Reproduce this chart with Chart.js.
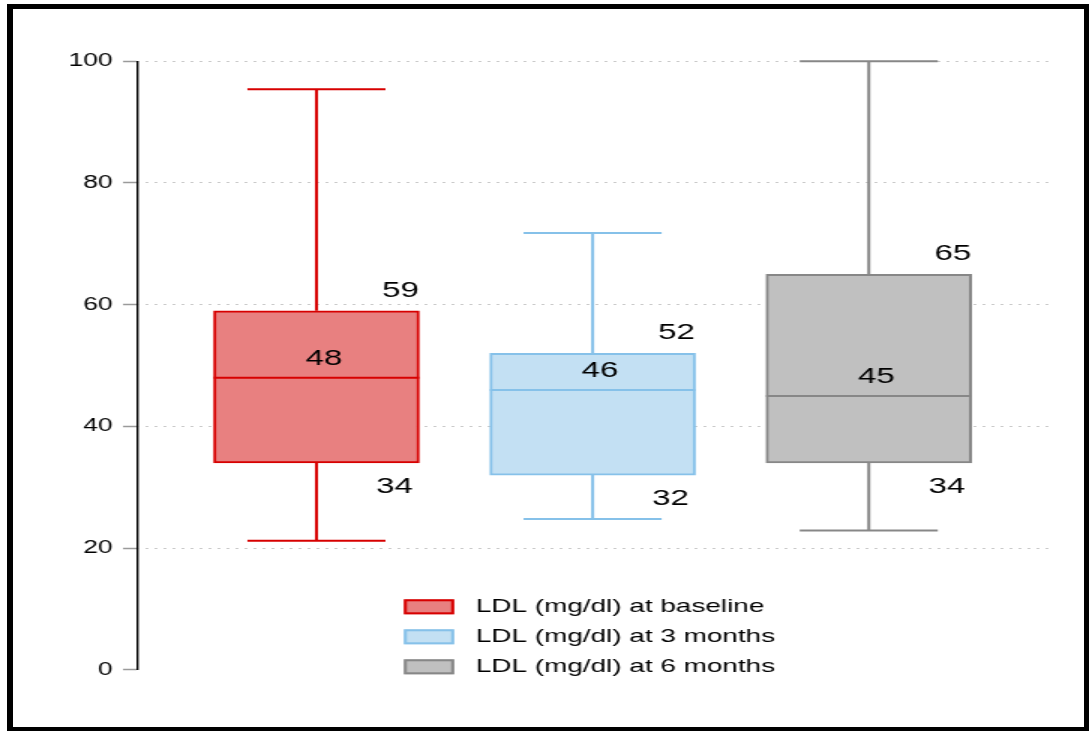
<!DOCTYPE html>
<html>
<head>
<meta charset="utf-8">
<script src="https://cdn.jsdelivr.net/npm/chart.js@4.4.1/dist/chart.umd.min.js"></script>
<style>
  html, body { margin: 0; padding: 0; background: #fff; }
  #wrap { position: relative; width: 1089px; height: 731px; overflow: hidden; }
  #c { position: absolute; left: 0; top: 0; }
  #frame {
    position: absolute; left: 7px; top: 4px; width: 1082px; height: 727px;
    box-sizing: border-box; border: 5px solid #000; border-left-width: 6px; border-bottom-width: 4px;
    pointer-events: none;
  }
</style>
</head>
<body>
<div id="wrap">
  <!-- drawn at 726 px wide and widened to 1089 px -->
  <canvas id="c" width="726" height="731" style="width:1089px;height:731px"></canvas>
  <div id="frame"></div>
</div>
<script>
// LDL cholesterol (mg/dl) box plots
const groups = ['LDL (mg/dl) at baseline', 'LDL (mg/dl) at 3 months', 'LDL (mg/dl) at 6 months'];
const positions = [1, 2, 3];
const lowerWhisker = [21.2, 24.8, 22.9];
const q1 = [34, 32, 34];
const median = [48, 46, 45];
const q3 = [59, 52, 65];
const upperWhisker = [95.4, 71.8, 100];
const yTickValues = [0, 20, 40, 60, 80, 100];

const fillColors = ['#e88080', '#c3e0f3', '#c0c0c0'];
const lineColors = ['#d70000', '#86c1e9', '#878787'];
const FONT = '"Liberation Sans", Arial, Helvetica, sans-serif';
const CAP_HALF = 0.25;      // whisker cap half-width, x units
const BOX_THICKNESS = 137;  // box width, px

const boxDatasets = groups.map((label, i) => ({
  type: 'bar',
  label,
  data: [{ x: positions[i], y: [q1[i], q3[i]] }],
  backgroundColor: fillColors[i],
  borderColor: lineColors[i],
  borderWidth: 2,
  borderSkipped: false,
  barThickness: BOX_THICKNESS,
  grouped: false,
  order: 0
}));

const whiskerDatasets = groups.map((label, i) => {
  const p = positions[i];
  return {
    type: 'line',
    label: label + ' whiskers',
    data: [
      { x: p - CAP_HALF, y: upperWhisker[i] }, { x: p + CAP_HALF, y: upperWhisker[i] },
      { x: p, y: null },
      { x: p, y: upperWhisker[i] }, { x: p, y: q3[i] },
      { x: p, y: null },
      { x: p, y: q1[i] }, { x: p, y: lowerWhisker[i] },
      { x: p, y: null },
      { x: p - CAP_HALF, y: lowerWhisker[i] }, { x: p + CAP_HALF, y: lowerWhisker[i] }
    ],
    borderColor: lineColors[i],
    borderWidth: 2,
    pointRadius: 0,
    spanGaps: false,
    fill: false,
    clip: false,
    order: 1
  };
});

// medians, value labels and the stacked legend
const boxPlotExtras = {
  id: 'boxPlotExtras',
  afterDatasetsDraw(chart) {
    const { ctx, scales: { x, y } } = chart;
    ctx.save();
    groups.forEach((g, i) => {
      const bar = chart.getDatasetMeta(i).data[0];
      const { x: bx, width: bw } = bar.getProps(['x', 'width'], true);
      const ym = y.getPixelForValue(median[i]);
      ctx.strokeStyle = lineColors[i];
      ctx.lineWidth = 2;
      ctx.beginPath();
      ctx.moveTo(bx - bw / 2, ym);
      ctx.lineTo(bx + bw / 2, ym);
      ctx.stroke();

      const cx = x.getPixelForValue(positions[i]);
      ctx.fillStyle = '#000';
      ctx.font = '22px ' + FONT;
      ctx.textAlign = 'center';
      ctx.textBaseline = 'middle';
      ctx.fillText(String(q3[i]), cx + 56, y.getPixelForValue(q3[i]) - 20);
      ctx.fillText(String(median[i]), cx + 5, ym - 19);
      ctx.fillText(String(q1[i]), cx + 52, y.getPixelForValue(q1[i]) + 24);
    });
    ctx.restore();
  },
  afterDraw(chart) {
    const { ctx, chartArea } = chart;
    const boxW = 33.5, boxH = 15, gap = 14.5, rowStep = 30;
    ctx.save();
    ctx.font = '18.6px ' + FONT;
    const textW = Math.max(...groups.map(t => ctx.measureText(t).width));
    const left = (chartArea.left + chartArea.right) / 2 - (boxW + gap + textW) / 2 - 3;
    groups.forEach((label, i) => {
      const cy = chartArea.bottom - 3 - (groups.length - 1 - i) * rowStep;
      ctx.fillStyle = fillColors[i];
      ctx.fillRect(left, cy - boxH / 2, boxW, boxH);
      ctx.strokeStyle = lineColors[i];
      ctx.lineWidth = 2;
      ctx.strokeRect(left + 1, cy - boxH / 2 + 1, boxW - 2, boxH - 2);
      ctx.fillStyle = '#000';
      ctx.textAlign = 'left';
      ctx.textBaseline = 'middle';
      ctx.fillText(label, left + boxW + gap, cy);
    });
    ctx.restore();
  }
};

new Chart(document.getElementById('c'), {
  type: 'bar',
  data: { datasets: [...boxDatasets, ...whiskerDatasets] },
  options: {
    responsive: false,
    animation: false,
    devicePixelRatio: 1,
    layout: { padding: { left: 0, top: 61.3, right: 25.3, bottom: 61.2 } },
    plugins: { legend: { display: false }, tooltip: { enabled: false } },
    scales: {
      x: {
        type: 'linear', min: 0.35, max: 3.66, display: false,
        offset: false, grid: { offset: false }
      },
      y: {
        type: 'linear',
        min: yTickValues[0],
        max: yTickValues[yTickValues.length - 1],
        afterBuildTicks(scale) { scale.ticks = yTickValues.map(v => ({ value: v })); },
        afterFit(scale) { scale.width = 91.3; },
        ticks: { color: '#000', padding: 7, font: { family: FONT, size: 17.6 } },
        grid: {
          color: (c) => (c.tick && c.tick.value === 0) ? 'rgba(0,0,0,0)' : '#a8a8a8',
          lineWidth: 1,
          tickLength: 9.3,
          tickColor: '#9a9a9a',
          tickWidth: 1.5
        },
        border: {
          display: true, color: '#000', width: 1.4,
          // dotted horizontal grid lines, solid axis line
          dash: (c) => c.type === 'tick' ? [1.2, 4.8] : [],
          dashOffset: -5
        }
      }
    }
  },
  plugins: [boxPlotExtras]
});
</script>
</body>
</html>
